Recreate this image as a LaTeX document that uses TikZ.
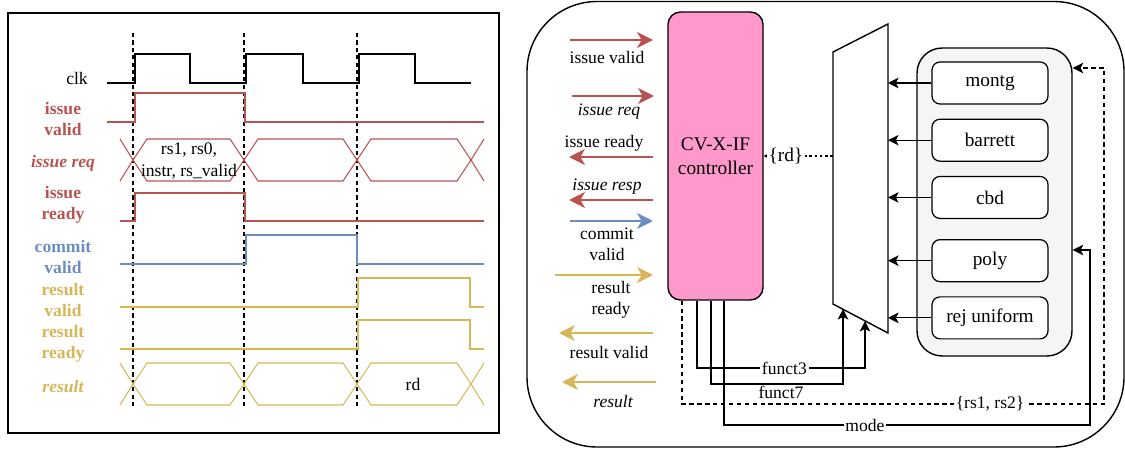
\documentclass[tikz,border=0pt]{standalone}
\usepackage{fontspec}
\setmainfont{Liberation Serif}
\usetikzlibrary{arrows.meta,positioning}
\definecolor{sigred}{HTML}{B85450}
\definecolor{sigblue}{HTML}{6C8EBF}
\definecolor{sigyellow}{HTML}{D6B656}
\definecolor{ctrlpink}{HTML}{FF99CC}
\definecolor{unitgray}{HTML}{F5F5F5}
\tikzset{
  wave/.style={line width=1.4pt},
  bus/.style={line width=0.6pt},
  siglabel/.style={font=\bfseries,align=center},
  cyclemark/.style={line width=0.7pt,dash pattern=on 2.4pt off 1.8pt},
  port/.style={line width=1.7pt,-{Stealth[length=9pt,width=9pt,inset=2.5pt]}},
  portlabel/.style={align=center,inner sep=1pt},
  ctrlbox/.style={draw,line width=0.8pt,fill=ctrlpink,rounded corners=0.25cm,
    minimum width=1.9cm,minimum height=5.76cm,align=center,
    font=\fontsize{11}{13.5}\selectfont},
  unitbox/.style={draw,line width=0.7pt,fill=white,rounded corners=0.16cm,
    minimum width=2.32cm,minimum height=0.84cm,font=\fontsize{11}{13.5}\selectfont},
  feed/.style={line width=0.7pt,-{Stealth[length=6pt,width=6pt,inset=1.5pt]}},
  onwire/.style={fill=white,inner sep=1pt},
}

\begin{document}
\begin{tikzpicture}[x=0.02cm,y=-0.02cm]
\useasboundingbox (0,0) rectangle (1125,449);

% timing diagram
\draw[line width=0.9pt] (8,13) rectangle (499,433);
\foreach \x in {133,244,357}
  \draw[cyclemark] (\x,33) -- (\x,408);

\node (lbl-clk) at (77,78) {clk};
\node[siglabel,sigred] (lbl-issue-valid) at (63,119) {issue\\valid};
\node[siglabel,sigred,font=\bfseries\itshape] (lbl-issue-req) at (63,163) {issue req};
\node[siglabel,sigred] (lbl-issue-ready) at (63,205) {issue\\ready};
\node[siglabel,sigblue] (lbl-commit-valid) at (63,257) {commit\\valid};
\node[siglabel,sigyellow] (lbl-result-valid) at (63,300) {result\\valid};
\node[siglabel,sigyellow] (lbl-result-ready) at (63,344) {result\\ready};
\node[siglabel,sigyellow,font=\bfseries\itshape] (lbl-result) at (63,387) {result};

\draw[line width=0.8pt] (107,83) -- (135,83) -- (135,54) -- (190,54) -- (190,83)
  -- (246,83) -- (246,54) -- (303,54) -- (303,83) -- (359,83) -- (359,54)
  -- (415,54) -- (415,83) -- (471,83);
\draw[wave,sigred] (107,122) -- (135,122) -- (135,93) -- (245,93) -- (245,122) -- (484,122);
\draw[wave,sigred] (120,221) -- (135,221) -- (135,193) -- (245,193) -- (245,221) -- (484,221);
\draw[wave,sigblue] (120,264) -- (246,264) -- (246,235) -- (357,235) -- (357,264) -- (484,264);
\draw[wave,sigyellow] (120,307) -- (358,307) -- (358,278) -- (470,278) -- (470,307) -- (484,307);
\draw[wave,sigyellow] (120,349) -- (358,349) -- (358,320) -- (470,320) -- (470,349) -- (484,349);

% bus values
\foreach \a/\b in {133/244,244/357,357/471} {
  \draw[bus,sigred] (\a,160) -- (\a+14,139) -- (\b-14,139) -- (\b,160) -- (\b-14,181) -- (\a+14,181) -- cycle;
  \draw[bus,sigyellow] (\a,384) -- (\a+14,363) -- (\b-14,363) -- (\b,384) -- (\b-14,405) -- (\a+14,405) -- cycle;
}
\draw[bus,sigred] (120,139) -- (133,160) -- (120,181) (484,139) -- (471,160) -- (484,181);
\draw[bus,sigyellow] (120,363) -- (133,384) -- (120,405) (484,363) -- (471,384) -- (484,405);
\node[align=center] (req-val) at (189,161) {rs1, rs0,\\instr, rs\_valid};
\node (res-val) at (413,384) {rd};

% block diagram
\draw[line width=0.8pt,rounded corners=1.4cm] (527,1.5) rectangle (1124,447);

\node[ctrlbox] (ctrl) at (715.5,156) {CV-X-IF\\controller};

\draw[port,sigred] (570,40) -- (653,40);
\node[portlabel] (lbl-p-iv) at (607,57) {issue valid};
\draw[port,sigred] (572,96) -- (654,96);
\node[portlabel,font=\itshape] (lbl-p-ireq) at (609,112) {issue req};
\draw[port,sigred] (653,157) -- (569,157);
\node[portlabel] (lbl-p-irdy) at (604,143) {issue ready};
\draw[port,sigred] (653,200) -- (569,200);
\node[portlabel,font=\itshape] (lbl-p-iresp) at (607,187) {issue resp};
\draw[port,sigblue] (570,221) -- (653,221);
\node[portlabel] (lbl-p-cv) at (607,244) {commit\\valid};
\draw[port,sigyellow] (555,275) -- (653,275);
\node[portlabel] (lbl-p-rrdy) at (611,300) {result\\ready};
\draw[port,sigyellow] (653,333) -- (559,333);
\node[portlabel] (lbl-p-rv) at (609,352) {result valid};
\draw[port,sigyellow] (656,382) -- (562,382);
\node[portlabel,font=\itshape] (lbl-p-res) at (613,402) {result};

% mux
\draw[line width=0.8pt] (833,52) coordinate (mux-tl) -- (888,24) coordinate (mux-tr)
  -- (888,333) coordinate (mux-br) -- (833,304) coordinate (mux-bl) -- cycle;

% units
\node[draw,line width=0.8pt,fill=unitgray,rounded corners=0.5cm,
  minimum width=3.1cm,minimum height=6.16cm] (units) at (994.5,202) {};
\node[unitbox] (montg) at (990,83) {montg};
\node[unitbox,below=0.28cm of montg] (barrett) {barrett};
\node[unitbox,below=0.28cm of barrett] (cbd) {cbd};
\node[unitbox,below=0.4cm of cbd] (poly) {poly};
\node[unitbox,below=0.28cm of poly] (rej) {rej uniform};

\foreach \u in {montg,barrett,cbd,poly,rej}
  \draw[feed] (\u.west) -- (\u.west -| mux-tr);

\draw[feed,dash pattern=on 1.5pt off 1.5pt] (mux-tl |- ctrl.east) -- node[onwire,pos=0.68,font=\fontsize{11}{13.5}\selectfont] {\{rd\}} (ctrl.east);

% controller outputs
\coordinate (rs-out) at ([xshift=-0.67cm]ctrl.south);
\coordinate (f3-out) at ([xshift=-0.37cm]ctrl.south);
\coordinate (f7-out) at ([xshift=-0.09cm]ctrl.south);
\coordinate (mode-out) at ([xshift=0.17cm]ctrl.south);

\draw[feed,dash pattern=on 2.5pt off 2pt] (rs-out) -- (rs-out |- 0,404)
  -- node[onwire,pos=0.73] {\{rs1, rs2\}} (1104,404) -- (1104,68) -- (units.east |- 0,68);
\draw[feed] (f3-out) -- (f3-out |- 0,368) -- node[onwire,pos=0.52] {funct3} (865,368) -- (865,321);
\draw[feed] (f7-out) -- (f7-out |- 0,384) -- node[below,inner sep=1pt,pos=0.53] {funct7} (843,384) -- (843,309);
\draw[feed] (mode-out) -- (mode-out |- 0,425) -- node[onwire,pos=0.385] {mode} (1090,425) -- (1090,250) -- (units.east |- 0,250);

\end{tikzpicture}
\end{document}
